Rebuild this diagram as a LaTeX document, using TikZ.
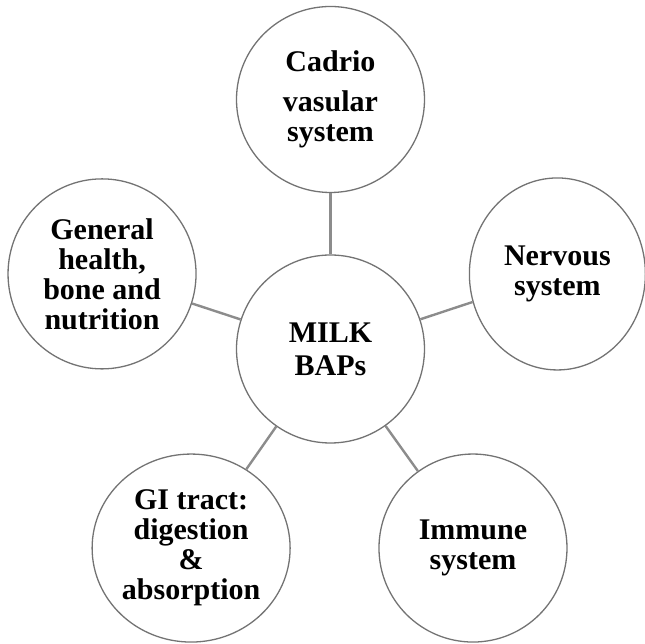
\documentclass[tikz,border=0pt]{standalone}
\usepackage{fontspec}
\setmainfont{Liberation Serif}
\usetikzlibrary{shapes.geometric}

\tikzset{
  bubble/.style = {ellipse, draw=black!55, line width=1.3pt, inner sep=0,
    minimum width=188pt, minimum height=190pt, align=center,
    font=\bfseries\fontsize{30}{30}\selectfont},
  spoke/.style = {draw=black!45, line width=2.4pt}
}

\begin{document}
\begin{tikzpicture}[x=1pt, y=1pt]
\useasboundingbox (-330.5,-295) rectangle (314.5,349);

\node[bubble, minimum height=188pt] (milk) at (0,0) {MILK\\[3pt]BAPs};

\node[bubble, minimum height=186pt] (cardio) at (90:249.5) {Cadrio\\[10pt]vasular\\system};
\node[bubble] (health) at (161.8:240.5) {General\\health,\\bone and\\nutrition};
\node[bubble, minimum width=176pt, minimum height=192pt] (nervous) at (18.3:239) {Nervous\\system};
\node[bubble, minimum width=198pt, minimum height=188pt] (gitract) at (235:243) {GI tract:\\digestion\\\&\\absorption};
\node[bubble, minimum height=188pt] (immune) at (305.6:244.8) {Immune\\system};

\draw[spoke] (milk) -- (cardio);
\draw[spoke] (milk) -- (health);
\draw[spoke] (milk) -- (nervous);
\draw[spoke] (milk) -- (gitract);
\draw[spoke] (milk) -- (immune);

\end{tikzpicture}
\end{document}
